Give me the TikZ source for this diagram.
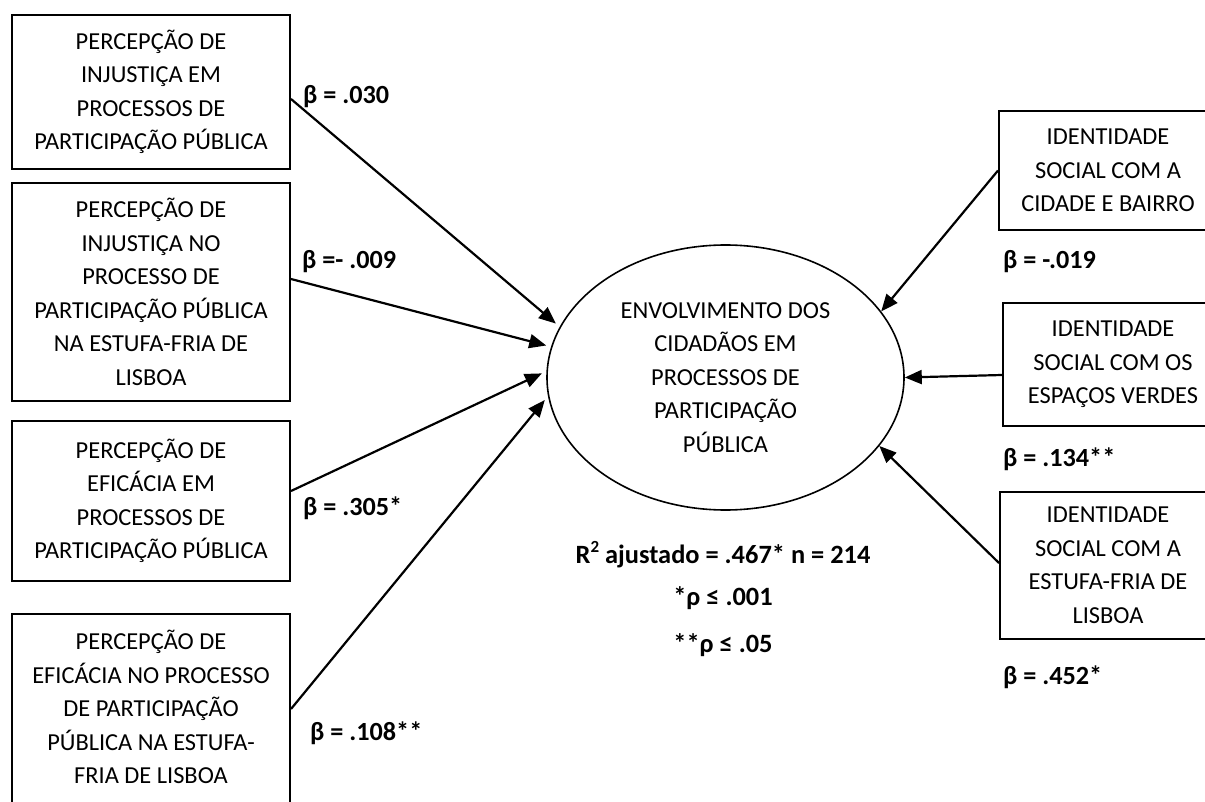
\documentclass[tikz,border=0pt]{standalone}
\usepackage{fontspec}
\setmainfont{Carlito}
\usetikzlibrary{arrows.meta,shapes.geometric,calc}
\begin{document}
\begin{tikzpicture}[x=1pt,y=-1pt,
  box/.style={draw, line width=2pt, inner sep=0pt, align=center, font=\fontsize{24.4}{33.5}\selectfont},
  txt/.style={inner sep=0pt, align=center, font=\fontsize{24.4}{33.5}\selectfont},
  lbl/.style={font=\fontsize{26.2}{30}\selectfont\bfseries, anchor=west, inner sep=0pt},
  stat/.style={font=\fontsize{26.4}{30}\selectfont\bfseries, inner sep=0pt},
  arr/.style={line width=2.2pt, -{Triangle[length=17pt,width=14pt]}},
  arrl/.style={arr, shorten >=5pt},
]
\clip (0,0) rectangle (1205,802);
\useasboundingbox (0,0) rectangle (1205,802);

% left boxes
\node[box, minimum width=278pt, minimum height=154pt] (b1) at (151,92) {PERCEPÇÃO DE\\INJUSTIÇA EM\\PROCESSOS DE\\PARTICIPAÇÃO PÚBLICA};
\node[box, minimum width=278pt, minimum height=218pt] (b2) at (151,292) {PERCEPÇÃO DE\\INJUSTIÇA NO\\PROCESSO DE\\PARTICIPAÇÃO PÚBLICA\\NA ESTUFA-FRIA DE\\LISBOA};
\node[box, minimum width=278pt, minimum height=160pt] (b3) at (151,501) {PERCEPÇÃO DE\\EFICÁCIA EM\\PROCESSOS DE\\PARTICIPAÇÃO PÚBLICA};
\node[box, minimum width=278pt, minimum height=216pt] (b4) at (151,722) {};
\node[txt] (t4) at (151,707) {PERCEPÇÃO DE\\EFICÁCIA NO PROCESSO\\DE PARTICIPAÇÃO\\PÚBLICA NA ESTUFA-\\FRIA DE LISBOA};

% right boxes
\node[box, minimum width=218pt, minimum height=119pt] (r1) at (1108,170.5) {IDENTIDADE\\SOCIAL COM A\\CIDADE E BAIRRO};
\node[box, minimum width=220pt, minimum height=123pt] (r2) at (1113,364.5) {IDENTIDADE\\SOCIAL COM OS\\ESPAÇOS VERDES};
\node[box, minimum width=216pt, minimum height=147pt] (r3) at (1108,565.5) {IDENTIDADE\\SOCIAL COM A\\ESTUFA-FRIA DE\\LISBOA};

% ellipse
\node[ellipse, draw, line width=1.6pt, minimum width=357pt, minimum height=265pt, inner sep=0pt, align=center, font=\fontsize{24.4}{33.5}\selectfont] (e) at (725.5,377.5) {ENVOLVIMENTO DOS\\CIDADÃOS EM\\PROCESSOS DE\\PARTICIPAÇÃO\\PÚBLICA};

% arrows
\draw[arrl] ($(b1.north east)+(0,85)$) -- (e.163);
\draw[arrl] ($(b2.north east)+(0,97)$) -- (e.170.7);
\draw[arrl] ($(b3.north east)+(0,71)$) -- (e.178.3);
\draw[arrl] ($(b4.north east)+(0,96)$) -- (e.186.8);
\draw[arr] (r1.west) -- (e.23.9);
\draw[arr] ($(r2.west)+(0,10.5)$) -- (e.0.8);
\draw[arr] ($(r3.west)+(0,-2.5)$) -- (e.-24.7);

% labels
\node[lbl] (l1) at (303,97) {β = .030};
\node[lbl] (l2) at (302,262) {β =- .009};
\node[lbl] (l3) at (303,508) {β = .305*};
\node[lbl] (l4) at (310,733) {β = .108**};
\node[lbl] (l5) at (1003,262) {β = -.019};
\node[lbl] (l6) at (1003,459) {β = .134**};
\node[lbl] (l7) at (1003,677) {β = .452*};

% statistics
\node[stat] (s1) at (723,555) {R\raisebox{0.42em}{\fontsize{17}{17}\selectfont\bfseries 2} ajustado = .467* n = 214};
\node[stat] (s2) at (723,598) {*ρ ≤ .001};
\node[stat] (s3) at (723,645) {**ρ ≤ .05};
\end{tikzpicture}
\end{document}
